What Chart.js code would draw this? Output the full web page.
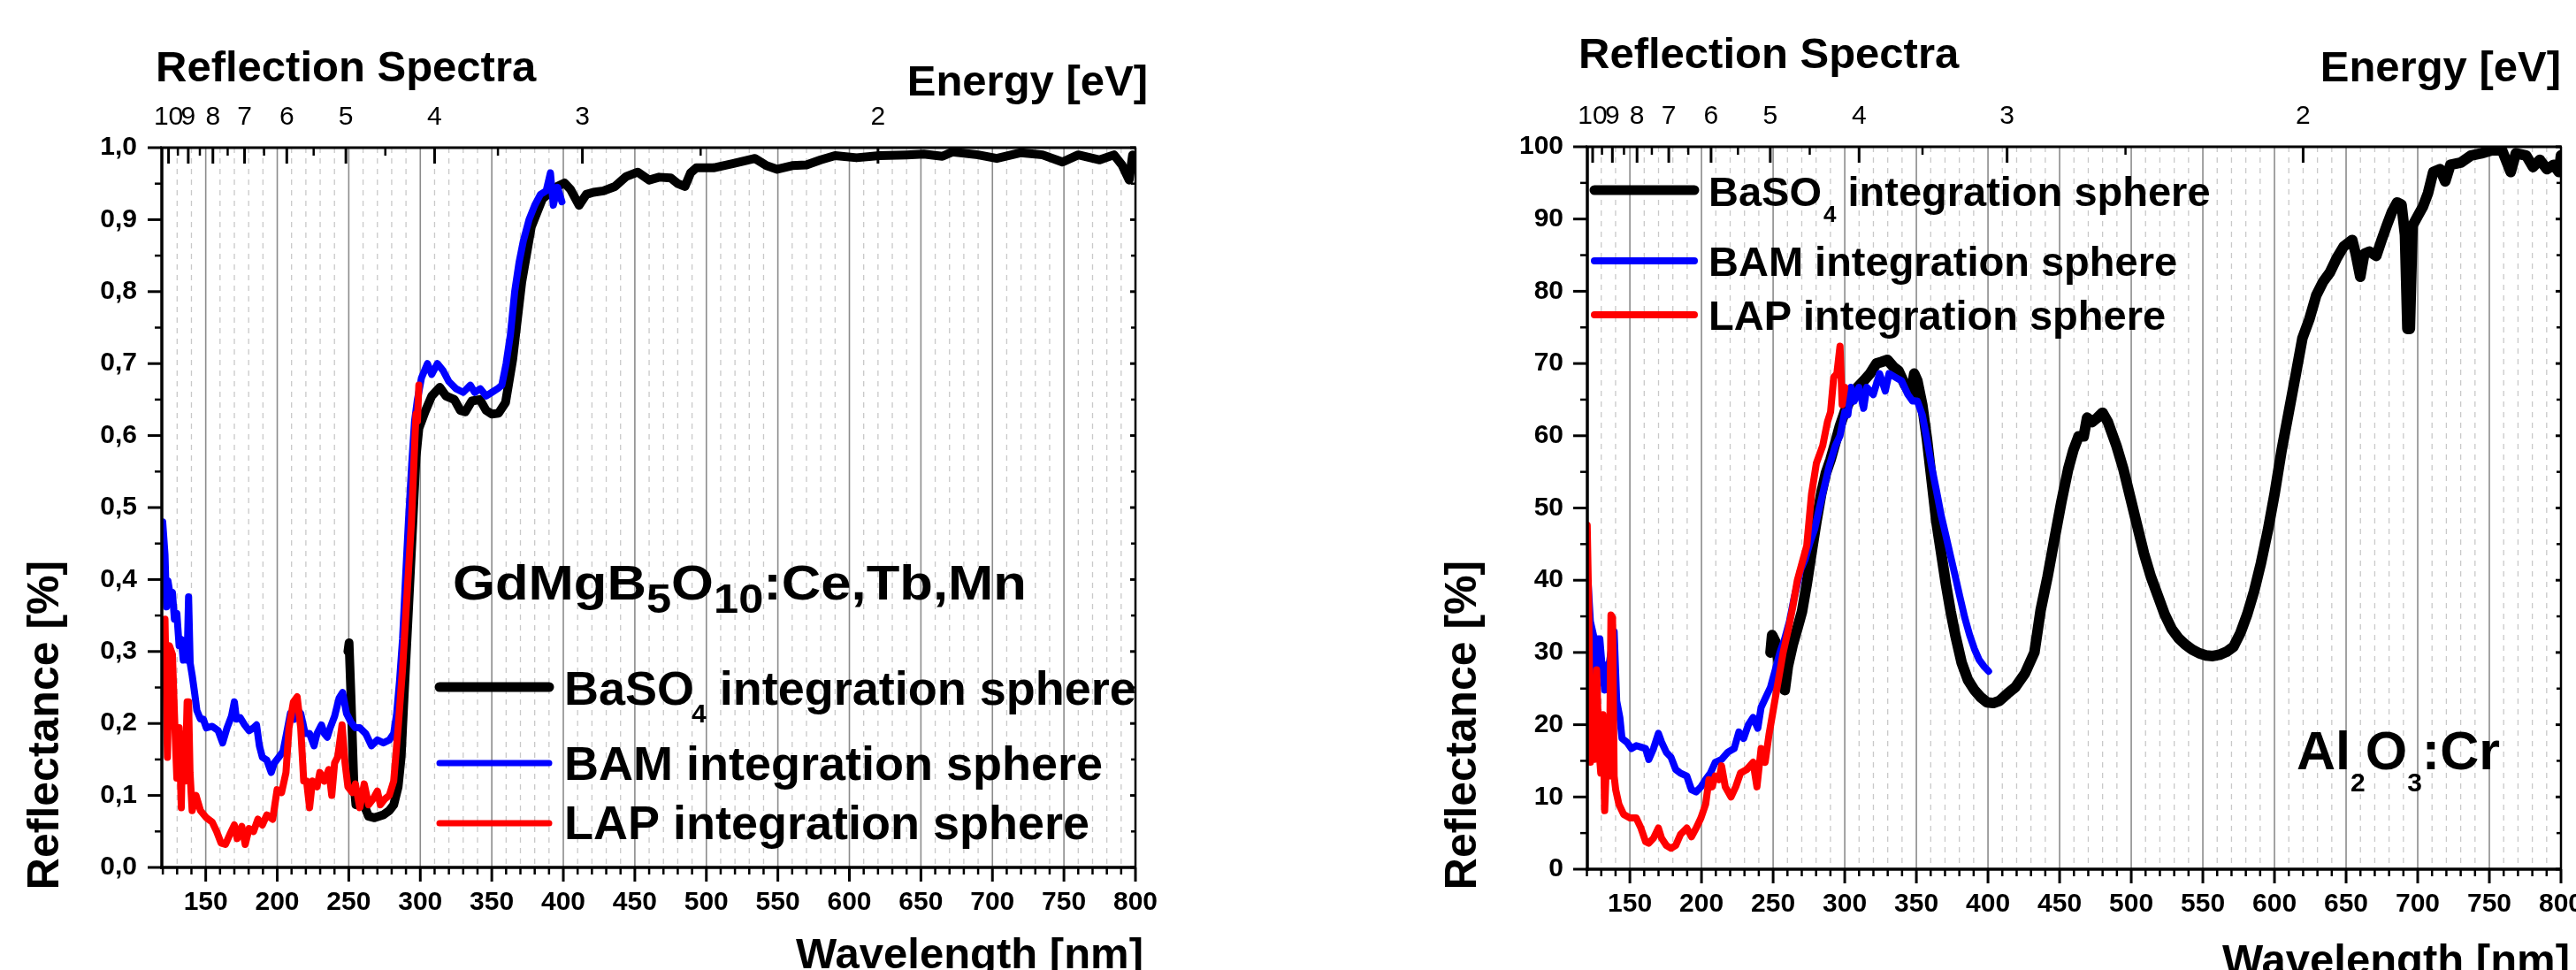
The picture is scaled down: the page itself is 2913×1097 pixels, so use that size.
<!DOCTYPE html>
<html>
<head>
<meta charset="utf-8">
<script src="https://cdn.jsdelivr.net/npm/chart.js@4.4.1/dist/chart.umd.min.js"></script>
<style>
  body { margin: 0; width: 2913px; height: 1097px; overflow: hidden; background: #fff; }
  canvas { position: absolute; top: 0; }
  #left { left: 0; }
  #right { left: 1456px; }
</style>
</head>
<body>
<canvas id="left" width="1456" height="1097"></canvas>
<canvas id="right" width="1457" height="1097"></canvas>
<script>
// ---- axis ticks ----
var nmTicks = [150, 200, 250, 300, 350, 400, 450, 500, 550, 600, 650, 700, 750, 800];
var nmMinor = [120, 130, 140, 160, 170, 180, 190, 210, 220, 230, 240, 260, 270, 280, 290, 310, 320, 330, 340,
  360, 370, 380, 390, 410, 420, 430, 440, 460, 470, 480, 490, 510, 520, 530, 540, 560, 570, 580, 590,
  610, 620, 630, 640, 660, 670, 680, 690, 710, 720, 730, 740, 760, 770, 780, 790];
var energyTicks = [10, 9, 8, 7, 6, 5, 4, 3, 2];
var energyMinor = [9.5, 8.5, 7.5, 6.5, 5.5, 4.5, 3.5, 2.5];
var leftYTicks = [0, 0.1, 0.2, 0.3, 0.4, 0.5, 0.6, 0.7, 0.8, 0.9, 1.0];
var leftYMinor = [0.05, 0.15, 0.25, 0.35, 0.45, 0.55, 0.65, 0.75, 0.85, 0.95];
var rightYTicks = [0, 10, 20, 30, 40, 50, 60, 70, 80, 90, 100];
var rightYMinor = [5, 15, 25, 35, 45, 55, 65, 75, 85, 95];

// ---- GdMgB5O10:Ce,Tb,Mn (reflectance 0..1) ----
var gdLapNm = [119.9, 121.5, 123.2, 124.6, 126.7, 128.1, 129.8, 131.4, 132.9, 133.9, 135.6, 137, 138, 139, 140.5,
  143.2, 146.3, 150.4, 154.5, 157.6, 160.7, 163.8, 166.9, 170, 172, 175.2, 177.6, 180.3, 183.4, 186.5, 189.6,
  192.7, 196.8, 199.9, 203, 206.1, 208.2, 211.3, 213.9, 216.4, 218.5, 220.5, 222.6, 224.6, 227.8, 229.8, 232.9,
  236, 238.1, 240.1, 242.2, 245.3, 247.4, 249.4, 252.5, 254.6, 257.7, 260.8, 263.9, 267, 270, 272.1, 275.2,
  278.3, 281.4, 284.5, 287.6, 290.7, 293.8, 295.5, 297, 298, 299];
var gdLap = [0.276, 0.345, 0.153, 0.308, 0.296, 0.214, 0.124, 0.194, 0.083, 0.185, 0.12, 0.23, 0.23, 0.132, 0.079,
  0.1, 0.079, 0.069, 0.063, 0.05, 0.034, 0.032, 0.046, 0.059, 0.04, 0.057, 0.032, 0.054, 0.05, 0.067, 0.059,
  0.073, 0.067, 0.108, 0.104, 0.132, 0.194, 0.23, 0.237, 0.194, 0.12, 0.12, 0.083, 0.12, 0.112, 0.132, 0.12,
  0.136, 0.1, 0.145, 0.153, 0.198, 0.145, 0.112, 0.104, 0.116, 0.083, 0.116, 0.087, 0.095, 0.106, 0.087, 0.095,
  0.1, 0.12, 0.194, 0.276, 0.378, 0.48, 0.56, 0.63, 0.62, 0.67];

var gdBamNm = [119.9, 121.5, 122.6, 123.6, 125.2, 126.7, 128.1, 129.8, 131.4, 132.9, 134.3, 135.6, 137, 138, 139.1,
  140.5, 142.2, 143.8, 146.3, 148.3, 150.4, 154.5, 158.7, 161.8, 164.9, 168, 170, 171.5, 174.1, 177.2, 180.3,
  183.4, 185.5, 187.5, 189.6, 192.7, 195.8, 197.9, 201, 204, 206.5, 209.2, 211.9, 214.4, 216.4, 219.5, 222.6,
  225.7, 227.8, 230.9, 232.9, 235, 237, 240.1, 243.2, 245.7, 248.4, 251.5, 254.6, 257.7, 261.8, 265.9, 270,
  274.2, 278.3, 281.4, 283.5, 285.5, 287.6, 289.6, 291.7, 294, 296, 298, 300.8, 305, 308, 312, 316, 320, 325,
  330, 335, 338, 342, 346, 350, 354, 357, 360, 363, 366, 369, 372, 376, 380, 384, 388, 391, 393, 396, 399];
var gdBam = [0.48, 0.435, 0.362, 0.398, 0.378, 0.382, 0.345, 0.353, 0.308, 0.317, 0.288, 0.304, 0.288, 0.376, 0.284,
  0.267, 0.243, 0.218, 0.206, 0.206, 0.194, 0.196, 0.19, 0.173, 0.194, 0.21, 0.23, 0.206, 0.208, 0.198, 0.19,
  0.194, 0.198, 0.169, 0.153, 0.149, 0.132, 0.145, 0.153, 0.161, 0.186, 0.214, 0.206, 0.218, 0.214, 0.186, 0.186,
  0.169, 0.186, 0.198, 0.186, 0.181, 0.194, 0.21, 0.235, 0.243, 0.214, 0.202, 0.194, 0.194, 0.186, 0.169, 0.177,
  0.173, 0.177, 0.186, 0.214, 0.259, 0.317, 0.398, 0.48, 0.56, 0.62, 0.65, 0.68, 0.70, 0.685, 0.70, 0.69, 0.675, 0.665,
  0.66, 0.67, 0.66, 0.665, 0.655, 0.66, 0.665, 0.67, 0.70, 0.74, 0.80, 0.84, 0.87, 0.90, 0.92, 0.935, 0.94, 0.965, 0.92, 0.945, 0.925];

var gdBasoNm = [249.4, 250.2, 251.5, 253.5, 255, 257, 259.7, 262, 263.9, 268, 274.2, 278.3, 281.4, 284.5, 286.6,
  288.6, 291.7, 294.8, 297, 299, 303.3, 308, 313.6, 318, 323.8, 328, 331.5, 336, 341.7, 346, 350, 354.7, 359.6,
  364.6, 370.9, 377.6, 385.4, 395.7, 400.8, 405, 411, 416, 421, 428, 436, 444, 452, 460, 467, 475, 480, 485,
  489, 493, 505, 519, 534, 542, 549.5, 560, 570, 580, 590, 605, 621, 640, 652, 665, 672, 690, 703, 720, 735,
  749, 760, 775, 785, 790.6, 795.6, 798, 800];
var gdBaso = [0.30, 0.312, 0.24, 0.12, 0.087, 0.09, 0.1, 0.08, 0.071, 0.069, 0.073, 0.079, 0.087, 0.112, 0.153,
  0.235, 0.357, 0.48, 0.57, 0.61, 0.633, 0.655, 0.667, 0.655, 0.65, 0.635, 0.633, 0.648, 0.65, 0.635, 0.63, 0.631, 0.646,
  0.706, 0.813, 0.89, 0.929, 0.946, 0.951, 0.942, 0.92, 0.935, 0.938, 0.94, 0.946, 0.96, 0.966, 0.955, 0.959, 0.958, 0.95, 0.946,
  0.965, 0.972, 0.972, 0.978, 0.985, 0.975, 0.97, 0.975, 0.976, 0.983, 0.989, 0.986, 0.989, 0.99, 0.991, 0.988, 0.994, 0.99, 0.985, 0.993, 0.99,
  0.98, 0.99, 0.983, 0.99, 0.976, 0.955, 0.99, 0.985];

// ---- Al2O3:Cr (reflectance %) ----
var alLapNm = [120.2, 121.3, 122.4, 124, 125.3, 126.8, 128.4, 129.7, 131.2, 132.4, 134.1, 135.7, 136.8, 137.9, 139,
  140.1, 142.3, 145.6, 150, 154.4, 157.7, 161, 163.2, 166.5, 169.9, 172.1, 175.4, 178.7, 182, 185.3, 189.7, 193,
  196.3, 199.6, 202.9, 205.2, 207.4, 209.6, 212.2, 214, 216.6, 220.6, 223.9, 227.2, 231.6, 236, 238.7, 241.6,
  244.4, 247.1, 250.4, 253.7, 257, 260.3, 263.6, 266.9, 270.2, 273.5, 276.8, 280.2, 284.6, 287.9, 290.1, 292.3,
  294.5, 296.7, 298.2, 300];
var alLap = [47.6, 35.7, 14.8, 23.8, 15.2, 27.6, 16.7, 13.3, 21.4, 8.1, 17.6, 12.9, 35.2, 34.8, 12.9,
  11, 9, 7.6, 7.1, 7.1, 5.7, 3.8, 3.6, 4.3, 5.7, 4.3, 3.3, 2.9, 3.3, 4.8, 5.7, 4.5,
  5.7, 7.1, 9, 12.4, 11.4, 12.9, 12.4, 14.3, 11.4, 10, 11.4, 13.3, 13.8, 14.8, 11.4, 16.7,
  14.8, 18.6, 22.4, 26.2, 30, 32.9, 36.2, 40, 42.4, 44.8, 51.9, 56.2, 58.6, 61.9, 63.3, 68.1,
  68.6, 72.4, 64.3, 66.7];

var alBamNm = [120.9, 122.4, 124.6, 125.7, 127.5, 129, 130.6, 132.4, 133.5, 135.7, 139, 140.8, 143, 144.5, 147.8,
  151.1, 154.4, 157.7, 161, 163.2, 166.5, 169.9, 172.1, 175.4, 178.7, 182, 185.3, 189.7, 193, 196.3, 199.6,
  202.9, 206.2, 209.6, 214, 218.4, 222.8, 226.1, 229.4, 232.7, 236, 239.3, 241.6, 244.9, 248.2, 251.5, 254.8,
  258.1, 261.4, 264.7, 269.1, 272.4, 275.7, 279, 282.3, 285.7, 289, 293.4, 296.7, 300, 302.2, 304.4, 306.6,
  309.9, 313.2, 315.4, 319.9, 324.3, 328.3, 330.9, 335.3, 339.7, 344.1, 347.4, 350.7, 354.1, 357.4, 360.7,
  364, 367.3, 370.6, 373.9, 377.2, 380.5, 383.8, 387.2, 390.5, 393.8, 397.1, 400.4];
var alBam = [39.5, 34.3, 32.4, 26.7, 31.9, 31.9, 28.1, 24.8, 28.1, 28.6, 32.9, 23.3, 21, 18.1, 17.6,
  16.7, 17.1, 16.9, 16.7, 15.2, 16.7, 18.8, 17.6, 16.2, 15.5, 13.8, 13.3, 12.9, 11, 10.7, 11.4,
  12.4, 13.3, 14.8, 15.2, 16.2, 16.7, 19, 18.1, 20, 21, 19.5, 22.4, 23.8, 25.2, 27.6, 30,
  31.9, 34.3, 37.6, 41.4, 42.9, 45.2, 47.1, 50, 52.9, 55.7, 58.6, 60, 63.3, 62.9, 66.7, 64.8,
  66.7, 63.8, 66.7, 65.7, 68.6, 66.2, 68.6, 68.1, 67.6, 65.7, 64.8, 64.8, 62.9, 59.5, 55.7,
  52.4, 49, 46.2, 43.3, 40.5, 37.6, 34.8, 32.4, 30.5, 29, 28.1, 27.4];

var alBasoNm = [248.2, 249.3, 251.5, 253.7, 255.9, 258.1, 260.3, 263.6, 266.9, 270.2, 273.5, 276.8, 280.2, 283.5,
  286.8, 290.1, 293.4, 296.7, 300, 304.4, 308.8, 313.2, 317.7, 322.1, 325.4, 329.8, 334.2, 337.5, 341.9, 346.3,
  348.5, 350.7, 354.1, 357.4, 360.7, 364, 367.3, 370.6, 373.9, 377.2, 381.6, 386, 390.5, 394.9, 399.3, 403.7,
  408, 413.6, 419.1, 425.8, 432.4, 436.8, 441.6, 446.4, 451.2, 456, 459.6, 463.2, 466.8, 469.2, 472.8, 476.4,
  480, 483.7, 489.7, 494.5, 499.3, 504.1, 508.9, 513.7, 518.5, 523.3, 528.1, 532.9, 537.7, 542.5, 547.4, 552.2,
  557, 561.8, 566.6, 571.4, 576.2, 581, 585.8, 590.6, 595.4, 600.2, 605, 609.9, 614.7, 619.5, 624.3, 629.1,
  633.9, 638.7, 643.5, 648.3, 654.3, 656.7, 659.9, 662.7, 666.3, 671.1, 674.8, 678.4, 682, 685.6, 688.7, 691.1,
  692.8, 694.5, 696.4, 700, 703.6, 707.2, 710.8, 715.6, 719.2, 722.8, 730, 737.3, 744.5, 751.7, 758.9, 764.9,
  768.5, 775.7, 780.5, 785.3, 790.1, 794.9, 798.6, 800];
var alBaso = [30, 32.4, 31.5, 29, 27.1, 24.8, 28.1, 31, 33.3, 35.7, 39.5, 43.8, 48.1, 51.9,
  54.8, 56.7, 59, 61.4, 63.3, 65.2, 66.7, 67.6, 68.6, 70, 70.2, 70.5, 69.5, 69, 67.1, 65.7,
  68.6, 67.6, 64.3, 59.5, 53.8, 48.1, 43.8, 39.5, 35.7, 32.4, 28.6, 26.2, 24.8, 23.8, 23.1, 23,
  23.3, 24.3, 25.2, 27.1, 30, 35.9, 40.5, 45.7, 50.8, 55.4, 58, 59.9, 59.9, 62.5, 61.9, 62.5,
  63.2, 61.9, 58.6, 55.4, 51.5, 47.6, 43.7, 40.5, 37.9, 35.3, 33.3, 32, 31.1, 30.4, 29.9, 29.6,
  29.5, 29.7, 30.1, 30.8, 32.7, 35.3, 38.5, 42.4, 46.9, 52.1, 58, 63.2, 68.3, 73.5, 76.1, 79.4,
  81.3, 82.6, 84.6, 86.2, 87.1, 85.2, 82, 85.2, 85.5, 84.9, 87.1, 89.1, 91, 92.3, 92, 87.8,
  74.8, 74.8, 89.1, 90.4, 91.7, 93.6, 96.5, 96.9, 95.2, 97.5, 97.8, 98.8, 99.1, 99.5, 99.5, 96.5,
  99.1, 98.8, 97.2, 98.2, 96.9, 97.5, 96.5, 98.8];

var FAMILY = '"Liberation Sans", Arial, sans-serif';

function seg(ctx, x1, y1, x2, y2) {
  ctx.beginPath(); ctx.moveTo(x1, y1); ctx.lineTo(x2, y2); ctx.stroke();
}

// parts: [text, size, dy, dx]
function rich(ctx, parts, x, y, o) {
  o = o || {};
  ctx.save();
  ctx.fillStyle = '#000';
  ctx.textBaseline = 'alphabetic';
  ctx.textAlign = 'left';
  var w = 0;
  parts.forEach(function (p) {
    ctx.font = 'bold ' + p[1] + 'px ' + FAMILY;
    w += ctx.measureText(p[0]).width + (p[3] || 0);
  });
  ctx.translate(x, y);
  if (o.rot) ctx.rotate(o.rot);
  ctx.scale(o.sx || 1, 1);
  var cx = o.align === 'right' ? -w : (o.align === 'center' ? -w / 2 : 0);
  parts.forEach(function (p) {
    ctx.font = 'bold ' + p[1] + 'px ' + FAMILY;
    cx += p[3] || 0;
    ctx.fillText(p[0], cx, p[2] || 0);
    cx += ctx.measureText(p[0]).width;
  });
  ctx.restore();
}

var frame = {
  id: 'frame',
  beforeDatasetsDraw: function (chart, args, o) {
    var ctx = chart.ctx, a = chart.chartArea, x = chart.scales.x;
    ctx.save();
    ctx.strokeStyle = '#c9c9c9';
    ctx.lineWidth = 1.3;
    ctx.setLineDash([6, 6]);
    nmMinor.forEach(function (v) {
      var px = x.getPixelForValue(v);
      if (px > a.left + 2) seg(ctx, px, a.top, px, a.bottom);
    });
    ctx.setLineDash([]);
    ctx.strokeStyle = '#8c8c8c';
    ctx.lineWidth = 1.6;
    nmTicks.forEach(function (v) {
      if (v < x.max) { var px = x.getPixelForValue(v); seg(ctx, px, a.top, px, a.bottom); }
    });
    ctx.restore();
  },
  afterDatasetsDraw: function (chart, args, o) {
    var ctx = chart.ctx, a = chart.chartArea, x = chart.scales.x, y = chart.scales.y;
    ctx.save();
    ctx.strokeStyle = '#000';
    ctx.lineCap = 'butt';
    // frame lines
    ctx.lineWidth = 2.5; seg(ctx, a.right, a.top, a.right, a.bottom);
    ctx.lineWidth = 3; seg(ctx, a.left - 2, a.top, a.right + 1, a.top);
    ctx.lineWidth = 3.5;
    seg(ctx, a.left, a.top - 1, a.left, a.bottom + 2);
    seg(ctx, a.left - 2, a.bottom, a.right + 1, a.bottom);
    // bottom ticks (outward)
    ctx.lineWidth = 3;
    nmTicks.forEach(function (v) { var px = x.getPixelForValue(v); seg(ctx, px, a.bottom, px, a.bottom + 16); });
    ctx.lineWidth = 2.5;
    nmMinor.forEach(function (v) { var px = x.getPixelForValue(v); seg(ctx, px, a.bottom, px, a.bottom + 8); });
    // left ticks (outward) and right ticks (inward)
    ctx.lineWidth = 3;
    o.yTicks.forEach(function (v) { var py = y.getPixelForValue(v); seg(ctx, a.left - 16, py, a.left, py); seg(ctx, a.right - 6, py, a.right, py); });
    ctx.lineWidth = 2.5;
    o.yMinor.forEach(function (v) { var py = y.getPixelForValue(v); seg(ctx, a.left - 8, py, a.left, py); seg(ctx, a.right - 5, py, a.right, py); });
    // top energy ticks (inward)
    ctx.lineWidth = 3;
    energyTicks.forEach(function (e) { var px = x.getPixelForValue(1240 / e); seg(ctx, px, a.top, px, a.top + 18); });
    ctx.lineWidth = 2.5;
    energyMinor.forEach(function (e) { var px = x.getPixelForValue(1240 / e); seg(ctx, px, a.top, px, a.top + 9); });
    // legend
    ctx.lineCap = 'round';
    o.legend.forEach(function (e) {
      ctx.strokeStyle = e.color;
      ctx.lineWidth = e.w;
      seg(ctx, e.x1, e.y, e.x2, e.y);
      rich(ctx, e.parts, e.tx, e.y + e.dy);
    });
    // texts
    o.texts.forEach(function (t) { rich(ctx, t.parts, t.x, t.y, t); });
    ctx.restore();
  }
};

function series(nm, vals, color, w) {
  return {
    data: nm.map(function (v, i) { return { x: v, y: vals[i] }; }),
    borderColor: color,
    backgroundColor: color,
    borderWidth: w,
    pointRadius: 0,
    tension: 0,
    borderJoinStyle: 'round',
    borderCapStyle: 'round',
    fill: false
  };
}

function makeChart(id, c) {
  var tickFont = { family: FAMILY, size: 30, weight: 'bold' };
  return new Chart(document.getElementById(id), {
    type: 'line',
    data: {
      datasets: [
        series(c.lapNm, c.lap, '#ff0000', c.lw[2]),
        series(c.bamNm, c.bam, '#0000ff', c.lw[1]),
        series(c.basoNm, c.baso, '#000000', c.lw[0])
      ]
    },
    options: {
      responsive: false,
      animation: false,
      devicePixelRatio: 1,
      layout: { padding: { left: 0, right: c.padRight, top: 0, bottom: 0 } },
      plugins: { legend: { display: false }, tooltip: { enabled: false }, frame: c.frame },
      scales: {
        x: {
          type: 'linear', position: 'bottom', min: c.xMin, max: 800,
          grid: { display: false, drawTicks: false, tickLength: 0 }, border: { display: false },
          afterBuildTicks: function (s) { s.ticks = nmTicks.map(function (v) { return { value: v }; }); },
          afterFit: function (s) { s.height = c.bottomH; s.paddingLeft = 0; s.paddingRight = 0; },
          ticks: { autoSkip: false, maxRotation: 0, minRotation: 0, padding: 22, color: '#000', font: tickFont,
            callback: function (v) { return String(v); } }
        },
        x2: {
          type: 'linear', position: 'top', min: c.xMin, max: 800,
          grid: { display: false, drawTicks: false, tickLength: 0 }, border: { display: false },
          afterBuildTicks: function (s) { s.ticks = energyTicks.map(function (e) { return { value: 1240 / e }; }); },
          afterFit: function (s) { s.height = c.topH; s.paddingLeft = 0; s.paddingRight = 0; },
          ticks: { autoSkip: false, maxRotation: 0, minRotation: 0, padding: 16, color: '#000',
            font: { family: FAMILY, size: 30, weight: 'normal' },
            callback: function (v) { return String(Math.round(1240 / v)); } }
        },
        y: {
          type: 'linear', min: 0, max: c.yMax,
          grid: { display: false, drawTicks: false, tickLength: 0 }, border: { display: false },
          afterBuildTicks: function (s) { s.ticks = c.yTicks.map(function (v) { return { value: v }; }); },
          afterFit: function (s) { s.width = c.leftW; s.paddingTop = 0; s.paddingBottom = 0; },
          ticks: { autoSkip: false, padding: c.yPad, color: '#000', font: tickFont, callback: c.yFmt }
        }
      }
    },
    plugins: [frame]
  });
}

makeChart('left', {
  lapNm: gdLapNm, lap: gdLap, bamNm: gdBamNm, bam: gdBam, basoNm: gdBasoNm, baso: gdBaso,
  lw: [10, 8, 8], xMin: 119.3, yMax: 1, yTicks: leftYTicks,
  padRight: 172, leftW: 183, topH: 167, bottomH: 116, yPad: 28,
  yFmt: function (v) { return v.toFixed(1).replace('.', ','); },
  frame: {
    yTicks: leftYTicks, yMinor: leftYMinor,
    legend: [
      { color: '#000', w: 11, x1: 497, x2: 621, y: 777, tx: 638, dy: 20,
        parts: [['BaSO', 54], ['4', 30, 20, -3], [' integration sphere', 54]] },
      { color: '#0000ff', w: 7, x1: 497, x2: 621, y: 863, tx: 638, dy: 19, parts: [['BAM integration sphere', 54]] },
      { color: '#ff0000', w: 7, x1: 497, x2: 621, y: 931, tx: 638, dy: 18, parts: [['LAP integration sphere', 54]] }
    ],
    texts: [
      { parts: [['Reflection Spectra', 49]], x: 176, y: 92 },
      { parts: [['Energy [eV]', 49]], x: 1298, y: 108, align: 'right' },
      { parts: [['Wavelength [nm]', 49]], x: 1293, y: 1095, align: 'right' },
      { parts: [['Reflectance [%]', 50]], x: 66, y: 820, align: 'center', rot: -Math.PI / 2 },
      { parts: [['GdMgB', 56], ['5', 46, 15], ['O', 56], ['10', 46, 15], [':Ce,Tb,Mn', 56]], x: 512, y: 678, sx: 1.1 }
    ]
  }
});

makeChart('right', {
  lapNm: alLapNm, lap: alLap, bamNm: alBamNm, bam: alBam, basoNm: alBasoNm, baso: alBaso,
  lw: [12, 8, 8], xMin: 120.3, yMax: 100, yTicks: rightYTicks,
  padRight: 17, leftW: 339, topH: 166, bottomH: 114, yPad: 27,
  yFmt: function (v) { return String(v); },
  frame: {
    yTicks: rightYTicks, yMinor: rightYMinor,
    legend: [
      { color: '#000', w: 11, x1: 347, x2: 460, y: 215, tx: 476, dy: 18,
        parts: [['BaSO', 47], ['4', 26, 18, 2], [' integration sphere', 47]] },
      { color: '#0000ff', w: 8, x1: 347, x2: 460, y: 295, tx: 476, dy: 17, parts: [['BAM integration sphere', 47]] },
      { color: '#ff0000', w: 8, x1: 347, x2: 460, y: 356, tx: 476, dy: 17, parts: [['LAP integration sphere', 47]] }
    ],
    texts: [
      { parts: [['Reflection Spectra', 49]], x: 329, y: 77 },
      { parts: [['Energy [eV]', 49]], x: 1440, y: 92, align: 'right' },
      { parts: [['Wavelength [nm]', 49]], x: 1450, y: 1102, align: 'right' },
      { parts: [['Reflectance [%]', 50]], x: 213, y: 820, align: 'center', rot: -Math.PI / 2 },
      { parts: [['Al', 61], ['2', 30, 25], ['O', 61], ['3', 30, 25], [':Cr', 61]], x: 1141, y: 870 }
    ]
  }
});
</script>
</body>
</html>
